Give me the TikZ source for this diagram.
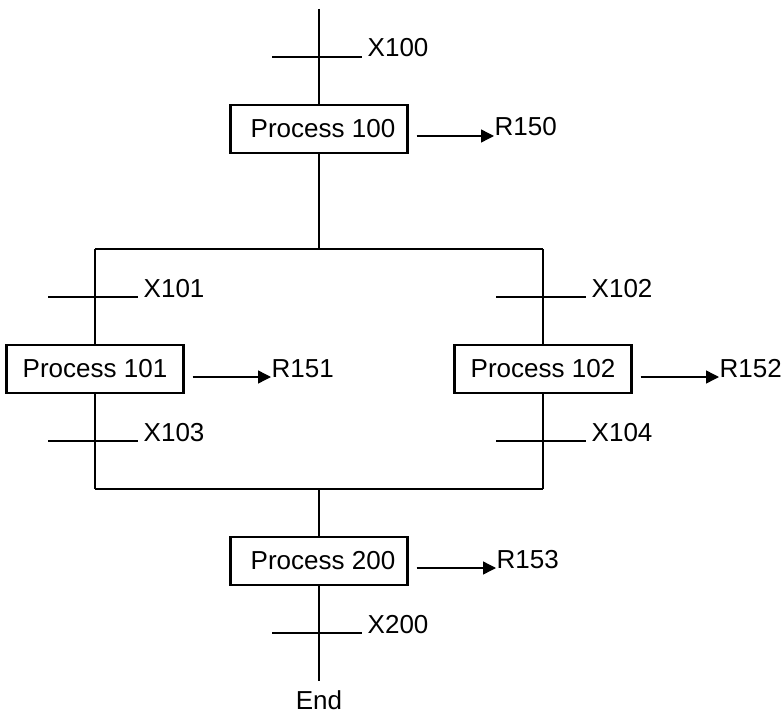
\documentclass[tikz,border=0pt]{standalone}
\usepackage{fontspec}
\setmainfont{Liberation Sans}
\usetikzlibrary{arrows.meta}

\tikzset{
  proc/.style={draw, line width=2.2pt, minimum width=177pt, minimum height=48pt, inner sep=0pt, font=\fontsize{26}{30}\selectfont},
  lbl/.style={anchor=base west, inner sep=0pt, font=\fontsize{26}{30}\selectfont},
  result/.style={-{Triangle[length=13pt,width=13pt]}}
}

\begin{document}
\begin{tikzpicture}[x=1pt,y=-1pt,line width=1.4pt]
        \useasboundingbox (0,0) rectangle (784,714);

        % steps
        \node[proc] (p100) at (319,129) {\hspace{8pt}Process 100};
        \node[proc] (p101) at (95,369) {Process 101};
        \node[proc] (p102) at (543,369) {Process 102};
        \node[proc] (p200) at (319,561) {\hspace{8pt}Process 200};

        % branch points
        \coordinate (start) at (319,9);
        \coordinate (split) at (319,249);
        \coordinate (splitL) at (95,249);
        \coordinate (splitR) at (543,249);
        \coordinate (joinL) at (95,489);
        \coordinate (joinR) at (543,489);
        \coordinate (join) at (319,489);
        \coordinate (stop) at (319,681);
        \node[lbl, anchor=base] (end) at (319,709) {End};

        \draw (start) -- (p100);
        \draw (p100) -- (split);
        \draw (splitL) -- (splitR);
        \draw (splitL) -- (p101);
        \draw (splitR) -- (p102);
        \draw (p101) -- (joinL);
        \draw (p102) -- (joinR);
        \draw (joinL) -- (joinR);
        \draw (join) -- (p200);
        \draw (p200) -- (stop);

        % transitions
        \foreach \n/\x/\y in {X100/319/57, X101/95/297, X102/543/297, X103/95/441, X104/543/441, X200/319/633} {
            \coordinate (t\n) at (\x,\y);
            \node[lbl] (l\n) at ([xshift=48pt]t\n) {\n};
            \draw ([xshift=-47pt]t\n) -- ([xshift=43pt]t\n);
        }

        % results
        \node[lbl] (r150) at (494,136) {R150};
        \node[lbl] (r151) at (271,377) {R151};
        \node[lbl] (r152) at (719,377) {R152};
        \node[lbl] (r153) at (496,568) {R153};
        \draw[result] ([xshift=8pt,yshift=-7pt]p100.east) -- (r150.base west);
        \draw[result] ([xshift=8pt,yshift=-8pt]p101.east) -- (r151.base west);
        \draw[result] ([xshift=8pt,yshift=-8pt]p102.east) -- (r152.base west);
        \draw[result] ([xshift=8pt,yshift=-7pt]p200.east) -- (r153.base west);
\end{tikzpicture}
\end{document}
